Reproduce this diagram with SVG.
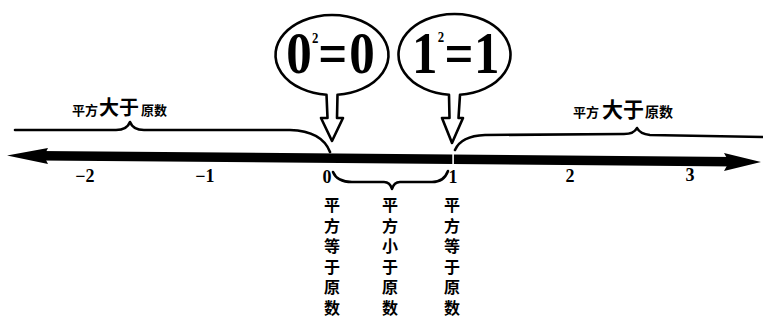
<svg xmlns="http://www.w3.org/2000/svg" width="763" height="327" viewBox="0 0 763 327">
<defs>
<style>
.ln{fill:none;stroke:#000;stroke-width:2.6;stroke-linecap:round;stroke-linejoin:round}
.bub{fill:#fff;stroke:#000;stroke-width:2.6;stroke-linejoin:round}
.cjk{font-family:"Noto Sans CJK SC","Noto Sans CJK TC",sans-serif;font-weight:bold;fill:#000}
.vt{font-size:16px;writing-mode:vertical-rl;letter-spacing:4.5px}
.num{font-family:"Liberation Serif",serif;font-weight:bold;font-size:18px;text-anchor:middle;fill:#000}
.big{font-family:"Liberation Serif",serif;font-weight:bold;font-size:60px;text-anchor:middle;fill:#000}
.sup{font-size:15px}
</style>
</defs>
<rect width="763" height="327" fill="#fff"/>

<g id="number-line">
  <polygon points="40,151 735,157 735,166.5 40,160.5" fill="#000"/>
  <polygon points="7,155.5 48,148 44,156 48,164" fill="#000"/>
  <polygon points="724,153 761,162 724,171 729,162" fill="#000"/>
  <rect x="452.3" y="151" width="1.6" height="17" fill="#fff"/>
  <text class="num" x="85" y="182">−2</text>
  <text class="num" x="205" y="182">−1</text>
  <text class="num" x="327" y="183">0</text>
  <text class="num" x="453" y="183">1</text>
  <text class="num" x="570" y="182">2</text>
  <text class="num" x="690" y="181">3</text>
</g>

<g id="bubble-0">
  <path class="bub" d="M326.5 94.8 A56.5 40 0 1 1 337.5 94.8 L337 118 L343 118 L332 141 L321 118 L327.5 118 Z"/>
  <text class="big" transform="translate(331,0) scale(0.85,1)"><tspan x="-37.6" y="73">0</tspan><tspan class="sup" x="-18.5" y="43">2</tspan><tspan x="2" y="73">=</tspan><tspan x="36.5" y="73">0</tspan></text>
</g>

<g id="bubble-1">
  <path class="bub" d="M449 94.8 A56 40.5 0 1 1 460 94.8 L458.5 118 L463 118 L452 143 L442 118 L449.5 118 Z"/>
  <text class="big" transform="translate(454,0) scale(0.85,1)"><tspan x="-34.5" y="73">1</tspan><tspan class="sup" x="-15.5" y="42">2</tspan><tspan x="5.8" y="73">=</tspan><tspan x="38.5" y="73">1</tspan></text>
</g>

<g id="connectors">
  <path class="ln" d="M15 130 L116 130 Q127 130 130 122 Q133 130 144 130 L290 130 Q322 131 330 152"/>
  <path class="ln" d="M455 150 Q461 136 485 135 L624 134 Q634 134 637 128 Q640 134 650 135 L763 137"/>
  <path class="ln" d="M333 172 Q337 182 352 182 L384 182 Q390 182 392 189 Q394 182 400 182 L432 182 Q444 182 448 171"/>
</g>

<g id="label-left">
  <text class="cjk" y="115"><tspan x="72" font-size="13">平方</tspan><tspan x="99" font-size="20">大于</tspan><tspan x="141" font-size="13">原数</tspan></text>
</g>
<g id="label-right">
  <text class="cjk" y="117"><tspan x="573" font-size="13">平方</tspan><tspan x="602" font-size="21">大于</tspan><tspan x="645" font-size="14">原数</tspan></text>
</g>

<g id="label-eq0">
  <text class="cjk vt" x="332" y="197">平方等于原数</text>
</g>
<g id="label-lt">
  <text class="cjk vt" x="390" y="197">平方小于原数</text>
</g>
<g id="label-eq1">
  <text class="cjk vt" x="452" y="197">平方等于原数</text>
</g>
</svg>
